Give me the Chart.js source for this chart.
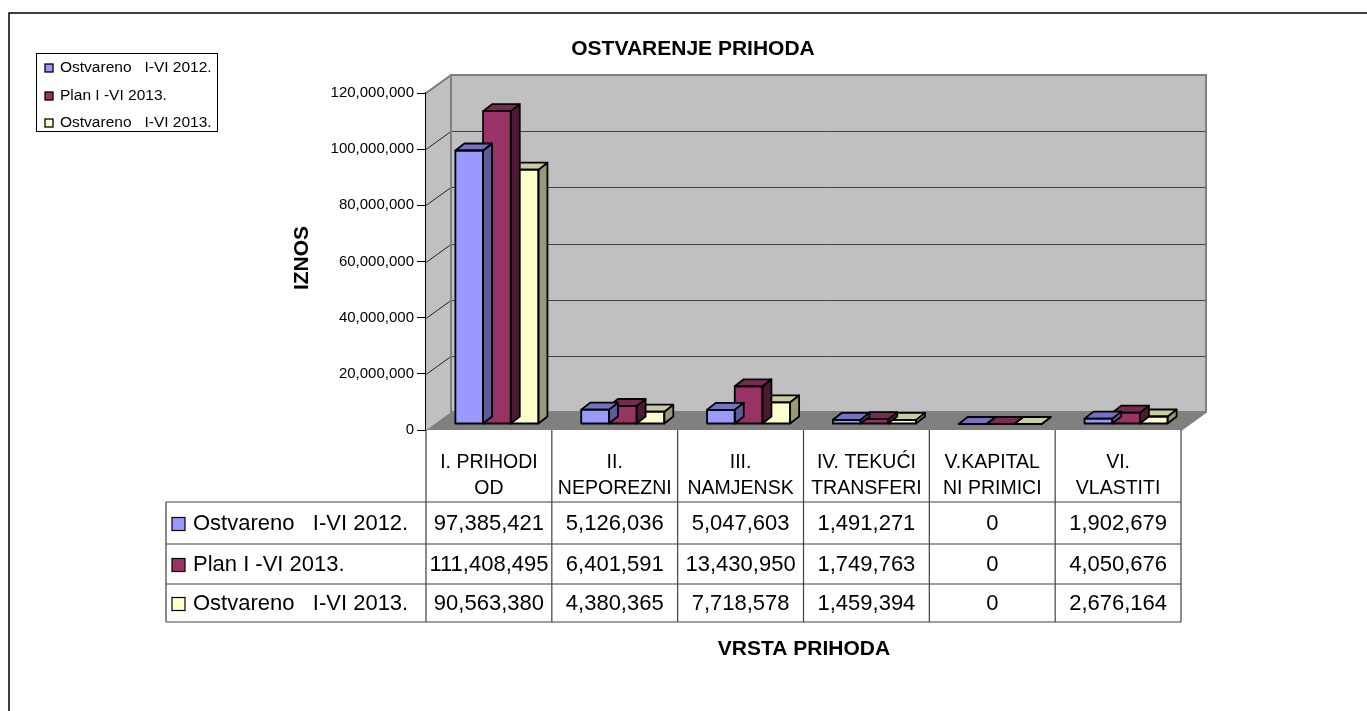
<!DOCTYPE html>
<html>
<head>
<meta charset="utf-8">
<script src="https://cdn.jsdelivr.net/npm/chart.js@4/dist/chart.umd.min.js"></script>
<style>
  html, body { margin: 0; padding: 0; background: #fff; }
  #wrap { position: relative; width: 1367px; height: 711px; }
</style>
</head>
<body>
<div id="wrap"><canvas id="chart" width="1367" height="711"></canvas></div>
<script>
// categories (two text lines each, as in the data table header)
const categories = [
  ["I. PRIHODI", "OD"],
  ["II.", "NEPOREZNI"],
  ["III.", "NAMJENSK"],
  ["IV. TEKUĆI", "TRANSFERI"],
  ["V.KAPITAL", "NI PRIMICI"],
  ["VI.", "VLASTITI"],
];
const seriesNames = ["Ostvareno   I-VI 2012.", "Plan I -VI 2013.", "Ostvareno   I-VI 2013."];
const ostvareno2012 = [97385421, 5126036, 5047603, 1491271, 0, 1902679];
const plan2013 = [111408495, 6401591, 13430950, 1749763, 0, 4050676];
const ostvareno2013 = [90563380, 4380365, 7718578, 1459394, 0, 2676164];
const yTicks = [0, 20000000, 40000000, 60000000, 80000000, 100000000, 120000000];

const front = ["#9999ff", "#993366", "#ffffcc"];
const tops = ["#7373c4", "#7a2952", "#cccca3"];
const sides = ["#5c5c99", "#4d1a33", "#99997a"];

// depth of the 3D walls and of the bars
const WALL = { dx: 25, dy: 18 };
const BAR = { dx: 9, dy: 7, shiftX: 8, shiftY: -6 };

const fmt = (v) => v.toLocaleString("en-US");
const FONT = "'Liberation Sans', Arial, sans-serif";

const scene3d = {
  id: "scene3d",
  beforeDatasetsDraw(chart) {
    const { ctx, chartArea: a } = chart;
    const y = chart.scales.y;
    const L = a.left, R = a.right, T = a.top, B = a.bottom;
    ctx.save();
    // side wall
    ctx.fillStyle = "#c0c0c0";
    ctx.beginPath();
    ctx.moveTo(L, T); ctx.lineTo(L + WALL.dx, T - WALL.dy);
    ctx.lineTo(L + WALL.dx, B - WALL.dy); ctx.lineTo(L, B); ctx.closePath();
    ctx.fill();
    // back wall
    ctx.fillRect(L + WALL.dx, T - WALL.dy, R - L, B - T);
    // floor
    ctx.fillStyle = "#808080";
    ctx.beginPath();
    ctx.moveTo(L, B); ctx.lineTo(L + WALL.dx, B - WALL.dy);
    ctx.lineTo(R + WALL.dx, B - WALL.dy); ctx.lineTo(R, B); ctx.closePath();
    ctx.fill();
    // gridlines
    ctx.lineWidth = 1;
    yTicks.forEach((v) => {
      if (v === 0) return;
      const py = Math.round(y.getPixelForValue(v)) + 0.5;
      ctx.strokeStyle = "#222";
      ctx.beginPath();
      ctx.moveTo(L, py); ctx.lineTo(L + WALL.dx, py - WALL.dy);
      ctx.stroke();
      ctx.strokeStyle = "#404040";
      ctx.beginPath();
      ctx.moveTo(L + WALL.dx, py - WALL.dy); ctx.lineTo(R + WALL.dx, py - WALL.dy);
      ctx.stroke();
    });
    // wall borders
    ctx.strokeStyle = "#808080";
    ctx.lineWidth = 2;
    ctx.strokeRect(L + WALL.dx, T - WALL.dy, R - L, B - T);
    ctx.beginPath();
    ctx.moveTo(L, T); ctx.lineTo(L + WALL.dx, T - WALL.dy);
    ctx.moveTo(R, B); ctx.lineTo(R + WALL.dx, B - WALL.dy);
    ctx.stroke();
    ctx.restore();
  },
  beforeDatasetDraw(chart) {
    chart.ctx.save();
    chart.ctx.translate(BAR.shiftX, BAR.shiftY);
  },
  afterDatasetDraw(chart, args) {
    const ctx = chart.ctx;
    const i = args.index;
    args.meta.data.forEach((bar) => {
      const { x, y, base, width } = bar.getProps(["x", "y", "base", "width"], true);
      const l = x - width / 2, r = x + width / 2;
      ctx.lineWidth = 1.8;
      ctx.strokeStyle = "#000";
      ctx.lineJoin = "round";
      // side face
      ctx.fillStyle = sides[i];
      ctx.beginPath();
      ctx.moveTo(r, y); ctx.lineTo(r + BAR.dx, y - BAR.dy);
      ctx.lineTo(r + BAR.dx, base - BAR.dy); ctx.lineTo(r, base); ctx.closePath();
      ctx.fill(); ctx.stroke();
      // top face
      ctx.fillStyle = tops[i];
      ctx.beginPath();
      ctx.moveTo(l, y); ctx.lineTo(r, y);
      ctx.lineTo(r + BAR.dx, y - BAR.dy); ctx.lineTo(l + BAR.dx, y - BAR.dy); ctx.closePath();
      ctx.fill(); ctx.stroke();
      // front outline
      ctx.strokeRect(l, y, width, base - y);
    });
    ctx.restore();
  },
  afterDraw(chart) {
    const { ctx, chartArea: a } = chart;
    const x = chart.scales.x;
    const half = (a.right - a.left) / categories.length / 2;
    const rows = [502, 544, 584, 622];
    const tableLeft = 166;
    const series = [ostvareno2012, plan2013, ostvareno2013];
    ctx.save();
    // data table lines
    ctx.strokeStyle = "#404040";
    ctx.lineWidth = 1.2;
    ctx.beginPath();
    rows.forEach((ry) => { ctx.moveTo(tableLeft, ry); ctx.lineTo(a.right, ry); });
    ctx.moveTo(tableLeft, rows[0]); ctx.lineTo(tableLeft, rows[3]);
    for (let c = 0; c <= categories.length; c++) {
      const px = c < categories.length ? x.getPixelForValue(c) - half : a.right;
      ctx.moveTo(px, a.bottom); ctx.lineTo(px, rows[3]);
    }
    ctx.stroke();
    // data table rows
    ctx.font = "22px " + FONT;
    ctx.textBaseline = "middle";
    series.forEach((vals, s) => {
      const cy = (rows[s] + rows[s + 1]) / 2 + 1;
      ctx.fillStyle = front[s];
      ctx.fillRect(172, cy - 6.5, 13, 13);
      ctx.strokeStyle = "#000"; ctx.lineWidth = 1.2;
      ctx.strokeRect(172, cy - 6.5, 13, 13);
      ctx.fillStyle = "#000";
      ctx.textAlign = "left";
      ctx.fillText(seriesNames[s], 193, cy);
      ctx.textAlign = "center";
      vals.forEach((v, c) => ctx.fillText(fmt(v), x.getPixelForValue(c), cy));
    });
    // titles
    ctx.font = "bold 21px " + FONT;
    ctx.textAlign = "center";
    ctx.fillText("OSTVARENJE PRIHODA", 693, 49);
    ctx.fillText("VRSTA PRIHODA", 804, 649);
    ctx.save();
    ctx.translate(302, 258);
    ctx.rotate(-Math.PI / 2);
    ctx.fillText("IZNOS", 0, 0);
    ctx.restore();
    // legend
    ctx.strokeStyle = "#000"; ctx.lineWidth = 1;
    ctx.strokeRect(36.5, 53.5, 181, 78);
    ctx.font = "15.5px " + FONT;
    ctx.textAlign = "left";
    [68, 96, 123].forEach((ly, s) => {
      ctx.fillStyle = front[s];
      ctx.fillRect(45, ly - 4, 8, 8);
      ctx.lineWidth = 1.3;
      ctx.strokeRect(45, ly - 4, 8, 8);
      ctx.fillStyle = "#000";
      ctx.fillText(seriesNames[s], 60, ly);
    });
    // outer frame
    ctx.lineWidth = 1.5;
    ctx.beginPath();
    ctx.moveTo(9, 711); ctx.lineTo(9, 13); ctx.lineTo(1367, 13);
    ctx.stroke();
    ctx.restore();
  },
};

const makeSet = (label, data, i) => ({
  label,
  data,
  backgroundColor: front[i],
  borderColor: "#000",
  borderWidth: 0,
  borderSkipped: false,
  clip: false,
  categoryPercentage: 0.66,
  barPercentage: 1,
});

new Chart(document.getElementById("chart"), {
  type: "bar",
  data: {
    labels: categories,
    datasets: [
      makeSet(seriesNames[0], ostvareno2012, 0),
      makeSet(seriesNames[1], plan2013, 1),
      makeSet(seriesNames[2], ostvareno2013, 2),
    ],
  },
  plugins: [scene3d],
  options: {
    responsive: false,
    animation: false,
    layout: { padding: { top: 93, right: 186, left: 0, bottom: 0 } },
    plugins: { legend: { display: false }, tooltip: { enabled: false } },
    scales: {
      x: {
        grid: { display: false },
        border: { display: false },
        ticks: {
          color: "#000",
          padding: 12,
          maxRotation: 0,
          autoSkip: false,
          font: { family: FONT, size: 19.5, lineHeight: 26 / 19.5 },
        },
        afterFit: (s) => { s.height = 281; },
      },
      y: {
        min: 0,
        max: 120000000,
        afterBuildTicks: (s) => { s.ticks = yTicks.map((v) => ({ value: v })); },
        grid: { drawOnChartArea: false, drawTicks: true, tickLength: 9, color: "#000" },
        border: { display: true, color: "#000", width: 1.5 },
        ticks: {
          color: "#000",
          padding: 3,
          font: { family: FONT, size: 15 },
          callback: (v) => fmt(v),
        },
        afterFit: (s) => { s.width = 426; },
      },
    },
  },
});
</script>
</body>
</html>
